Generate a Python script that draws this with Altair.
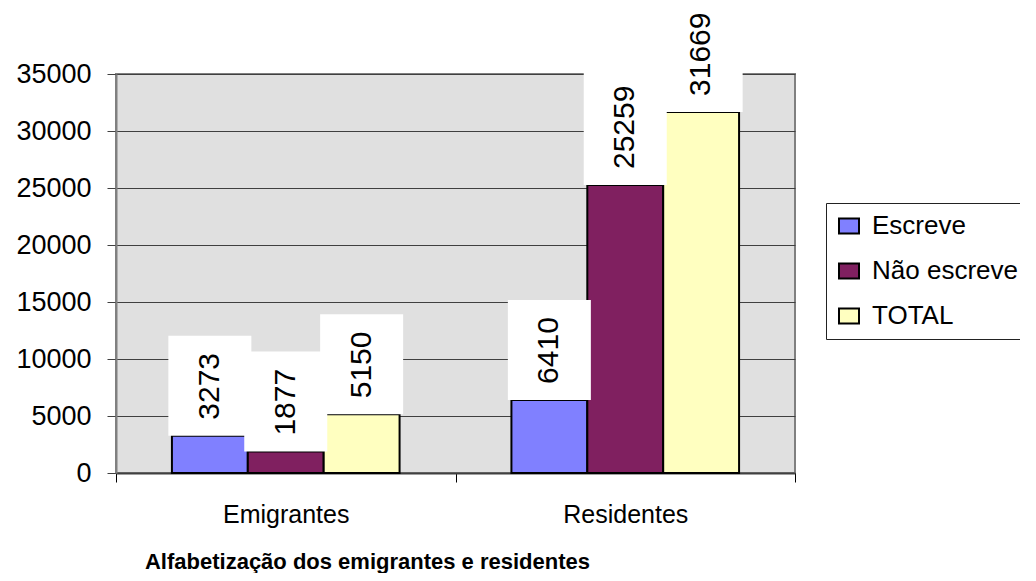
import altair as alt
import pandas as pd

categories = ["Emigrantes", "Residentes"]
series = ["Escreve", "Não escreve", "TOTAL"]
emigrantes = [3273, 1877, 5150]
residentes = [6410, 25259, 31669]
colors = ["#8080FF", "#802060", "#FFFFC0"]
y_ticks = [0, 5000, 10000, 15000, 20000, 25000, 30000, 35000]
title_text = "Alfabetização dos emigrantes e residentes"

rows = []
for cat, vals in zip(categories, [emigrantes, residentes]):
    for s, v in zip(series, vals):
        rows.append({"categoria": cat, "serie": s, "valor": v, "rotulo": str(v)})
df = pd.DataFrame(rows)

FONT = "Liberation Sans"
PLOT_W = 679
PLOT_H = 399
YMAX = 35000
upp = YMAX / PLOT_H  # data units per pixel

x_enc = alt.X(
    "categoria:N",
    sort=categories,
    scale=alt.Scale(paddingInner=0, paddingOuter=0),
    axis=alt.Axis(
        title=title_text,
        titleFont=FONT,
        titleFontSize=22,
        titleFontWeight="bold",
        titleColor="black",
        titleX=251,
        titleY=95,
        titleAlign="center",
        titleBaseline="alphabetic",
        labelFont=FONT,
        labelFontSize=25,
        labelColor="black",
        labelAngle=0,
        labelBaseline="alphabetic",
        labelPadding=40,
        tickBand="extent",
        tickSize=9,
        tickColor="black",
        tickWidth=1,
        domainColor="#404040",
        domainWidth=2,
        grid=False,
    ),
)
xoff_scale = alt.Scale(paddingInner=0, paddingOuter=0.737)
xoff_enc = alt.XOffset("serie:N", sort=series, scale=xoff_scale)
y_enc = alt.Y(
    "valor:Q",
    scale=alt.Scale(domain=[0, YMAX], nice=False),
    axis=alt.Axis(
        title=None,
        values=y_ticks,
        format="d",
        labelFont=FONT,
        labelFontSize=27,
        labelColor="black",
        labelPadding=16,
        tickSize=9,
        tickColor="#404040",
        domainColor="#808080",
        domainWidth=2,
        grid=True,
        gridColor="#404040",
        gridWidth=1,
    ),
)

base = alt.Chart(df)

bars = base.mark_bar(stroke="black", strokeWidth=2).encode(
    x=x_enc,
    xOffset=xoff_enc,
    y=y_enc,
    color=alt.Color(
        "serie:N",
        sort=series,
        scale=alt.Scale(domain=series, range=colors),
        legend=alt.Legend(
            title=None,
            orient="none",
            legendX=710,
            legendY=129,
            symbolType="M-1,-0.75L1,-0.75L1,0.75L-1,0.75Z",
            symbolSize=400,
            symbolStrokeColor="black",
            symbolStrokeWidth=2,
            symbolOpacity=1,
            labelFont=FONT,
            labelFontSize=26,
            labelColor="black",
            labelOffset=10,
            rowPadding=19,
            padding=10,
            strokeColor="#222222",
            fillColor="white",
        ),
    ),
)

boxes = base.transform_calculate(
    box_top=f"datum.valor + (36 + 16 * length(datum.rotulo)) * {upp}"
).mark_bar(color="white", width=83, clip=False).encode(
    x=alt.X("categoria:N", sort=categories),
    xOffset=alt.XOffset("serie:N", sort=series, scale=xoff_scale),
    y=alt.Y("valor:Q"),
    y2=alt.Y2("box_top:Q"),
)

labels = base.mark_text(
    angle=270,
    align="left",
    baseline="middle",
    dx=16,
    font=FONT,
    fontSize=30,
    color="black",
).encode(
    x=alt.X("categoria:N", sort=categories),
    xOffset=alt.XOffset("serie:N", sort=series, scale=xoff_scale),
    y=alt.Y("valor:Q"),
    text="rotulo:N",
)

chart = (
    alt.layer(bars, boxes, labels)
    .properties(
        width=PLOT_W,
        height=PLOT_H,
        autosize=alt.AutoSizeParams(type="none"),
        padding={"left": 108, "top": 66, "right": 225, "bottom": 100},
        background="white",
    )
    .configure_view(fill="#E0E0E0", stroke="#808080", strokeWidth=2)
)

chart.save("out.html", embed_options={"renderer": "svg", "actions": False})
